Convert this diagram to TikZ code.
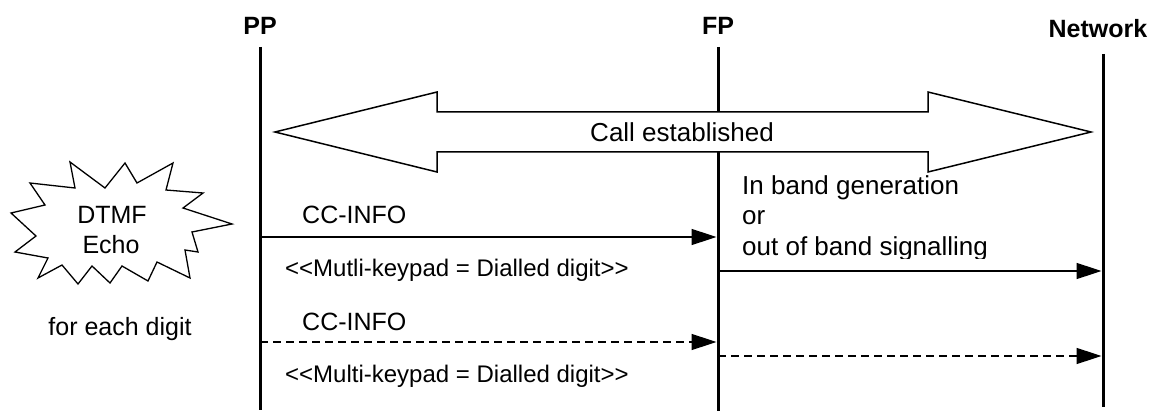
\documentclass[tikz,border=0pt]{standalone}
\usepackage{fontspec}
\setmainfont{Liberation Sans}
\usetikzlibrary{arrows.meta}
\begin{document}
\begin{tikzpicture}[x=1pt,y=-1pt,
  lbl/.style={inner sep=0pt, font=\fontsize{25}{30}\selectfont},
  biglbl/.style={inner sep=0pt, font=\fontsize{26}{30}\selectfont},
  ent/.style={inner sep=0pt, font=\fontsize{25}{30}\selectfont\bfseries},
  life/.style={line width=3pt},
  msg/.style={line width=1.5pt, shorten >=1.5pt, -{Triangle[length=25pt,width=16pt]}},
  dmsg/.style={msg, dash pattern=on 8pt off 5pt},
  outline/.style={line width=1.5pt, fill=white, line join=miter},
]
\useasboundingbox (0,0) rectangle (1156,414);

% entities
\node[ent, anchor=base] (PP) at (260,35) {PP};
\node[ent, anchor=base] (FP) at (718,35) {FP};
\node[ent, anchor=base] (NW) at (1098,38) {Network};

% lifelines
\coordinate (PPtop) at (260,47);  \coordinate (PPbot) at (260,410);
\coordinate (FPtop) at (718,47);  \coordinate (FPbot) at (718,411);
\coordinate (NWtop) at (1103,54); \coordinate (NWbot) at (1103,407);
\draw[life] (PPtop) -- (PPbot);
\draw[life] (FPtop) -- (FPbot);
\draw[life] (NWtop) -- (NWbot);

% call established double arrow
\draw[outline] (275,132) -- (437,92) -- (437,112) -- (928,112) -- (928,92)
  -- (1091,132) -- (928,172) -- (928,152) -- (437,152) -- (437,172) -- cycle;
\node[biglbl, anchor=base] (call) at (682,142) {Call established};

% starburst
\draw[line width=1.3pt, fill=white, line join=miter]
  (70,162) -- (105,188) -- (125,163) -- (137,183) -- (173,163) -- (166,190)
  -- (203,193) -- (183,208) -- (232,224) -- (192,232) -- (198,252) -- (185,250)
  -- (190,278) -- (157,262) -- (148,281) -- (122,266) -- (110,283) -- (92,266)
  -- (78,284) -- (62,265) -- (38,278) -- (48,258) -- (15,252) -- (36,236)
  -- (11,213) -- (45,205) -- (30,183) -- (75,188) -- cycle;
\node[lbl, anchor=base] (dtmf) at (112,223) {DTMF};
\node[lbl, anchor=base] (echo) at (111,253) {Echo};
\node[lbl, anchor=base] (each) at (120,335) {for each digit};

% messages PP -> FP
\coordinate (m1s) at (260,237); \coordinate (m1e) at (718,237);
\draw[msg] (m1s) -- (m1e);
\node[lbl, anchor=base west] (m1a) at (302,223) {CC-INFO};
\node[lbl, anchor=base west, font=\fontsize{24}{30}\selectfont] (m1b) at (285,276) {<{}<Mutli-keypad = Dialled digit>{}>};

\coordinate (m2s) at (260,342); \coordinate (m2e) at (718,342);
\draw[dmsg] (m2s) -- (m2e);
\node[lbl, anchor=base west] (m2a) at (302,330) {CC-INFO};
\node[lbl, anchor=base west, font=\fontsize{24}{30}\selectfont] (m2b) at (285,382) {<{}<Multi-keypad = Dialled digit>{}>};

% messages FP -> Network
\coordinate (n1s) at (718,271); \coordinate (n1e) at (1103,271);
\draw[msg] (n1s) -- (n1e);
\coordinate (n2s) at (718,356); \coordinate (n2e) at (1103,356);
\draw[dmsg] (n2s) -- (n2e);

\node[biglbl, anchor=base west] (ib1) at (742,195) {In band generation};
\node[biglbl, anchor=base west] (ib2) at (742,225) {or};
\begin{scope}
  \clip (735,230) rectangle (1000,258);
  \node[biglbl, anchor=base west] (ib3) at (742,255) {out of band signalling};
\end{scope}
\end{tikzpicture}
\end{document}
